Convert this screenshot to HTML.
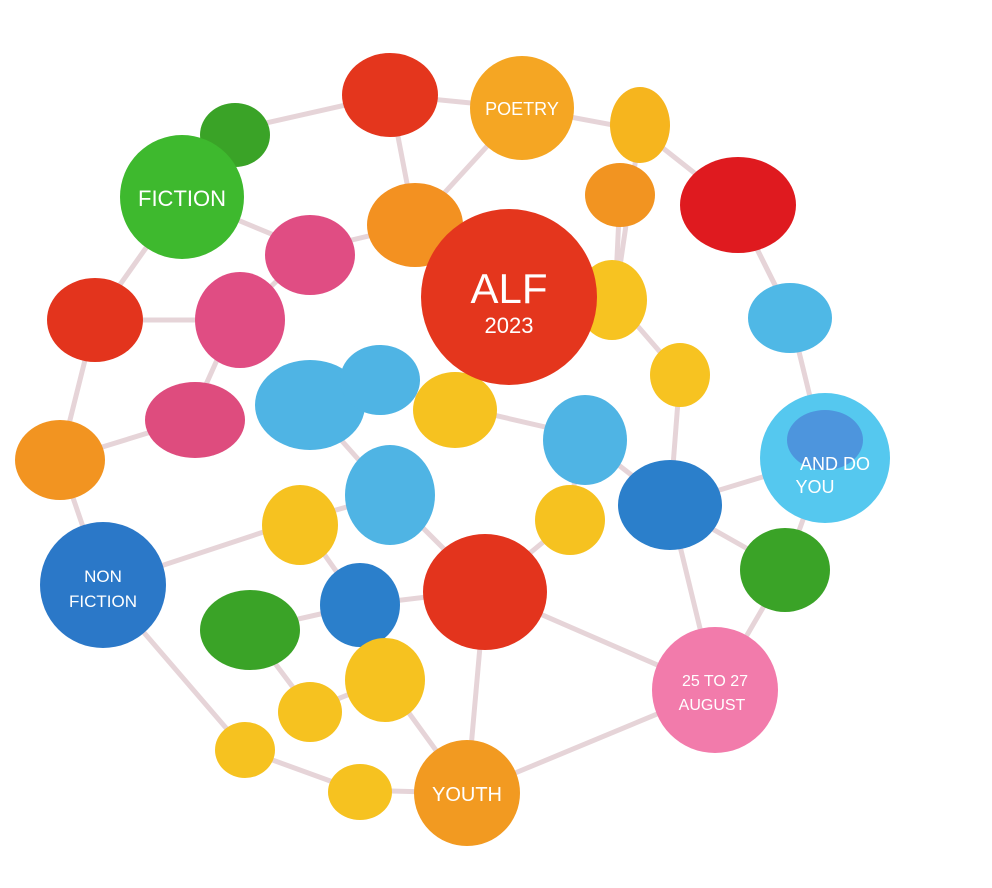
<!DOCTYPE html>
<html><head><meta charset="utf-8"><style>
html,body{margin:0;padding:0;background:#fff;}
svg{display:block;}
text{font-family:"Liberation Sans",sans-serif;fill:#fff;text-anchor:middle;}
</style></head><body>
<svg width="992" height="888" viewBox="0 0 992 888" xmlns="http://www.w3.org/2000/svg">
<g stroke="#e6d4d8" stroke-width="5" fill="none">
<path d="M182,197 L235,130 L390,95 L522,108 L640,130 L735,205 L790,315 L825,458 L785,570 L715,690 L467,793 L355,790 L245,750 L103,585 L60,460 L95,320 L182,197"/>
<path d="M390,95 L415,225 L509,297 L615,300 L680,375 L670,505 L825,458"/>
<path d="M310,250 L415,225 L522,108 M235,320 L310,250 L182,197 M95,320 L235,320 L190,420 L60,460"/>
<path d="M310,405 L380,385 L450,405 L509,297 M450,405 L580,435 L670,505 L715,690 L485,590 L570,520 L580,435"/>
<path d="M310,405 L390,495 L300,520 L103,585 M390,495 L485,590 L467,793 M360,605 L250,630 L310,710 L385,680 L467,793 M300,520 L360,605 L485,590 M785,570 L670,505 M615,300 L640,130 M620,195 L615,300 M735,205 L790,315"/>
</g>
<g>
<ellipse cx="390" cy="95" rx="48" ry="42" fill="#e4361d"/>
<ellipse cx="235" cy="135" rx="35" ry="32" fill="#3aa327"/>
<ellipse cx="640" cy="125" rx="30" ry="38" fill="#f6b51e"/>
<ellipse cx="620" cy="195" rx="35" ry="32" fill="#f29421"/>
<ellipse cx="738" cy="205" rx="58" ry="48" fill="#df1a1f"/>
<ellipse cx="310" cy="255" rx="45" ry="40" fill="#e04d83"/>
<ellipse cx="415" cy="225" rx="48" ry="42" fill="#f39121"/>
<ellipse cx="95" cy="320" rx="48" ry="42" fill="#e3341d"/>
<ellipse cx="240" cy="320" rx="45" ry="48" fill="#e04d83"/>
<ellipse cx="612" cy="300" rx="35" ry="40" fill="#f7c321"/>
<ellipse cx="790" cy="318" rx="42" ry="35" fill="#4fb8e6"/>
<ellipse cx="680" cy="375" rx="30" ry="32" fill="#f7c321"/>
<ellipse cx="195" cy="420" rx="50" ry="38" fill="#de4c7e"/>
<ellipse cx="310" cy="405" rx="55" ry="45" fill="#4fb4e4"/>
<ellipse cx="380" cy="380" rx="40" ry="35" fill="#4fb4e4"/>
<ellipse cx="455" cy="410" rx="42" ry="38" fill="#f6c220"/>
<ellipse cx="60" cy="460" rx="45" ry="40" fill="#f29421"/>
<ellipse cx="390" cy="495" rx="45" ry="50" fill="#4fb4e4"/>
<ellipse cx="585" cy="440" rx="42" ry="45" fill="#4fb4e4"/>
<ellipse cx="670" cy="505" rx="52" ry="45" fill="#2b7fcb"/>
<ellipse cx="300" cy="525" rx="38" ry="40" fill="#f6c220"/>
<ellipse cx="570" cy="520" rx="35" ry="35" fill="#f6c220"/>
<ellipse cx="485" cy="592" rx="62" ry="58" fill="#e3341d"/>
<ellipse cx="360" cy="605" rx="40" ry="42" fill="#2b7fcb"/>
<ellipse cx="250" cy="630" rx="50" ry="40" fill="#3aa327"/>
<ellipse cx="785" cy="570" rx="45" ry="42" fill="#3aa327"/>
<ellipse cx="385" cy="680" rx="40" ry="42" fill="#f6c220"/>
<ellipse cx="310" cy="712" rx="32" ry="30" fill="#f6c220"/>
<ellipse cx="245" cy="750" rx="30" ry="28" fill="#f6c220"/>
<ellipse cx="360" cy="792" rx="32" ry="28" fill="#f6c220"/>
</g>
<circle cx="182" cy="197" r="62" fill="#3eb92e"/>
<text x="182" y="206" font-size="22">FICTION</text>
<circle cx="522" cy="108" r="52" fill="#f5a623"/>
<text x="522" y="115" font-size="18">POETRY</text>
<circle cx="509" cy="297" r="88" fill="#e4361d"/>
<text x="509" y="303" font-size="42">ALF</text>
<text x="509" y="333" font-size="22">2023</text>
<circle cx="825" cy="458" r="65" fill="#55c8ef"/>
<ellipse cx="825" cy="440" rx="38" ry="30" fill="#4a7fd6" opacity="0.7"/>
<text x="835" y="470" font-size="18">AND DO</text>
<text x="815" y="493" font-size="18">YOU</text>
<circle cx="103" cy="585" r="63" fill="#2b78c8"/>
<text x="103" y="582" font-size="17">NON</text>
<text x="103" y="607" font-size="17">FICTION</text>
<circle cx="715" cy="690" r="63" fill="#f27bab"/>
<text x="715" y="686" font-size="16">25 TO 27</text>
<text x="712" y="710" font-size="16">AUGUST</text>
<circle cx="467" cy="793" r="53" fill="#f29a21"/>
<text x="467" y="801" font-size="20">YOUTH</text>
</svg>
</body></html>
